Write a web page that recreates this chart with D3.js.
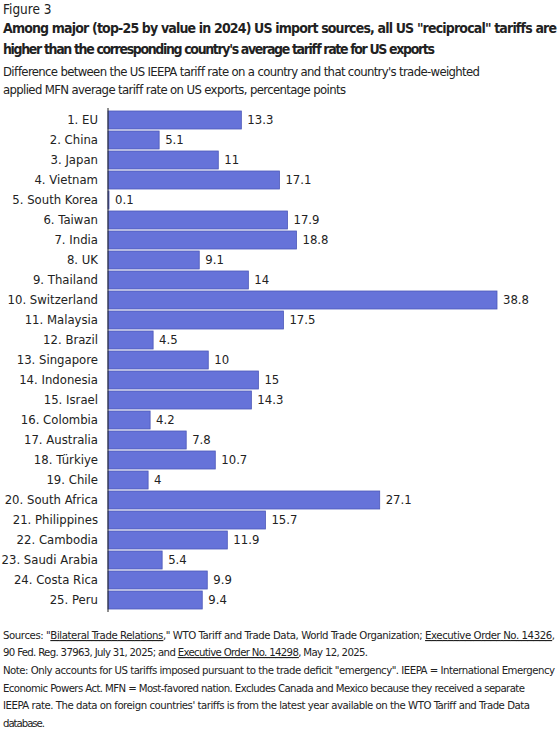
<!DOCTYPE html>
<html>
<head>
<meta charset="utf-8">
<script src="https://cdn.jsdelivr.net/npm/d3@7"></script>
<style>
  body { margin: 0; background: #fff; }
  svg { display: block; }
  text { font-family: "DejaVu Sans Condensed", "DejaVu Sans", sans-serif; fill: #222; }
</style>
</head>
<body>
<div id="chart"></div>
<script>
// Data
const countries = ["1. EU", "2. China", "3. Japan", "4. Vietnam", "5. South Korea", "6. Taiwan", "7. India",
  "8. UK", "9. Thailand", "10. Switzerland", "11. Malaysia", "12. Brazil", "13. Singapore", "14. Indonesia",
  "15. Israel", "16. Colombia", "17. Australia", "18. Türkiye", "19. Chile", "20. South Africa",
  "21. Philippines", "22. Cambodia", "23. Saudi Arabia", "24. Costa Rica", "25. Peru"];
const gaps = [13.3, 5.1, 11, 17.1, 0.1, 17.9, 18.8, 9.1, 14, 38.8, 17.5, 4.5, 10, 15, 14.3, 4.2, 7.8, 10.7,
  4, 27.1, 15.7, 11.9, 5.4, 9.9, 9.4];

const width = 560;
const height = 733;
const labelFont = "'DejaVu Sans', sans-serif";

const svg = d3.select("#chart")
  .append("svg")
  .attr("width", width)
  .attr("height", height);

// Header
svg.append("text").attr("x", 3).attr("y", 14)
  .style("font-size", "13.5px").text("Figure 3");

const titleLines = [
  "Among major (top-25 by value in 2024) US import sources, all US \"reciprocal\" tariffs are",
  "higher than the corresponding country's average tariff rate for US exports"
];
svg.selectAll(".title")
  .data(titleLines)
  .enter()
  .append("text")
  .attr("class", "title")
  .attr("x", 3)
  .attr("y", (d, i) => 33 + i * 21)
  .style("font-size", "14px")
  .style("font-weight", "bold")
  .attr("textLength", (d, i) => i === 0 ? 554 : 432)
  .text(d => d);

const subtitleLines = [
  "Difference between the US IEEPA tariff rate on a country and that country's trade-weighted",
  "applied MFN average tariff rate on US exports, percentage points"
];
svg.selectAll(".subtitle")
  .data(subtitleLines)
  .enter()
  .append("text")
  .attr("class", "subtitle")
  .attr("x", 3)
  .attr("y", (d, i) => 76 + i * 18)
  .style("font-size", "13px")
  .attr("textLength", (d, i) => i === 0 ? 477 : 343)
  .text(d => d);

// Scales
const xScale = d3.scaleLinear()
  .domain([0, 38.8])
  .range([108, 497]);

const yScale = d3.scaleBand()
  .domain(countries)
  .range([110, 610])
  .paddingInner(0.1)
  .paddingOuter(0.05);

// Bars
svg.selectAll(".bar")
  .data(gaps)
  .enter()
  .append("rect")
  .attr("class", "bar")
  .attr("x", xScale(0))
  .attr("y", (d, i) => yScale(countries[i]))
  .attr("width", d => xScale(d) - xScale(0))
  .attr("height", yScale.bandwidth())
  .attr("fill", "#6673d9")
  .attr("stroke", "#4c57b8")
  .attr("stroke-width", 0.8);

// Value labels
svg.selectAll(".value")
  .data(gaps)
  .enter()
  .append("text")
  .attr("class", "value")
  .attr("x", d => xScale(d) + 6)
  .attr("y", (d, i) => yScale(countries[i]) + yScale.bandwidth() / 2)
  .attr("dy", "0.36em")
  .style("font-family", labelFont)
  .style("font-size", "11.7px")
  .text(d => d);

// Y axis
const yAxis = d3.axisLeft(yScale).tickSize(0).tickPadding(10);
const yG = svg.append("g")
  .attr("transform", `translate(${xScale(0)}, 0)`)
  .call(yAxis);
yG.select(".domain").attr("stroke", "#222").attr("d", "M0,108V612");
yG.selectAll("text").style("font-size", "11.7px")
  .style("font-family", labelFont)
  .attr("fill", "#222");

// Footer
const footer = svg.append("g").style("font-size", "11.3px");
const f1 = footer.append("text").attr("x", 3).attr("y", 639).attr("textLength", 552);
f1.append("tspan").text("Sources: \"");
f1.append("tspan").attr("text-decoration", "underline").text("Bilateral Trade Relations");
f1.append("tspan").text(",\" WTO Tariff and Trade Data, World Trade Organization; ");
f1.append("tspan").attr("text-decoration", "underline").text("Executive Order No. 14326");
f1.append("tspan").text(",");

const f2 = footer.append("text").attr("x", 3).attr("y", 656).attr("textLength", 365);
f2.append("tspan").text("90 Fed. Reg. 37963, July 31, 2025; and ");
f2.append("tspan").attr("text-decoration", "underline").text("Executive Order No. 14298");
f2.append("tspan").text(", May 12, 2025.");

const noteLines = [
  ["Note: Only accounts for US tariffs imposed pursuant to the trade deficit \"emergency\". IEEPA = International Emergency", 552],
  ["Economic Powers Act. MFN = Most-favored nation. Excludes Canada and Mexico because they received a separate", 522],
  ["IEEPA rate. The data on foreign countries' tariffs is from the latest year available on the WTO Tariff and Trade Data", 527],
  ["database.", 42]
];
footer.selectAll(".note")
  .data(noteLines)
  .enter()
  .append("text")
  .attr("class", "note")
  .attr("x", 3)
  .attr("y", (d, i) => 674 + i * 17.5)
  .attr("textLength", d => d[1])
  .text(d => d[0]);
</script>
</body>
</html>
